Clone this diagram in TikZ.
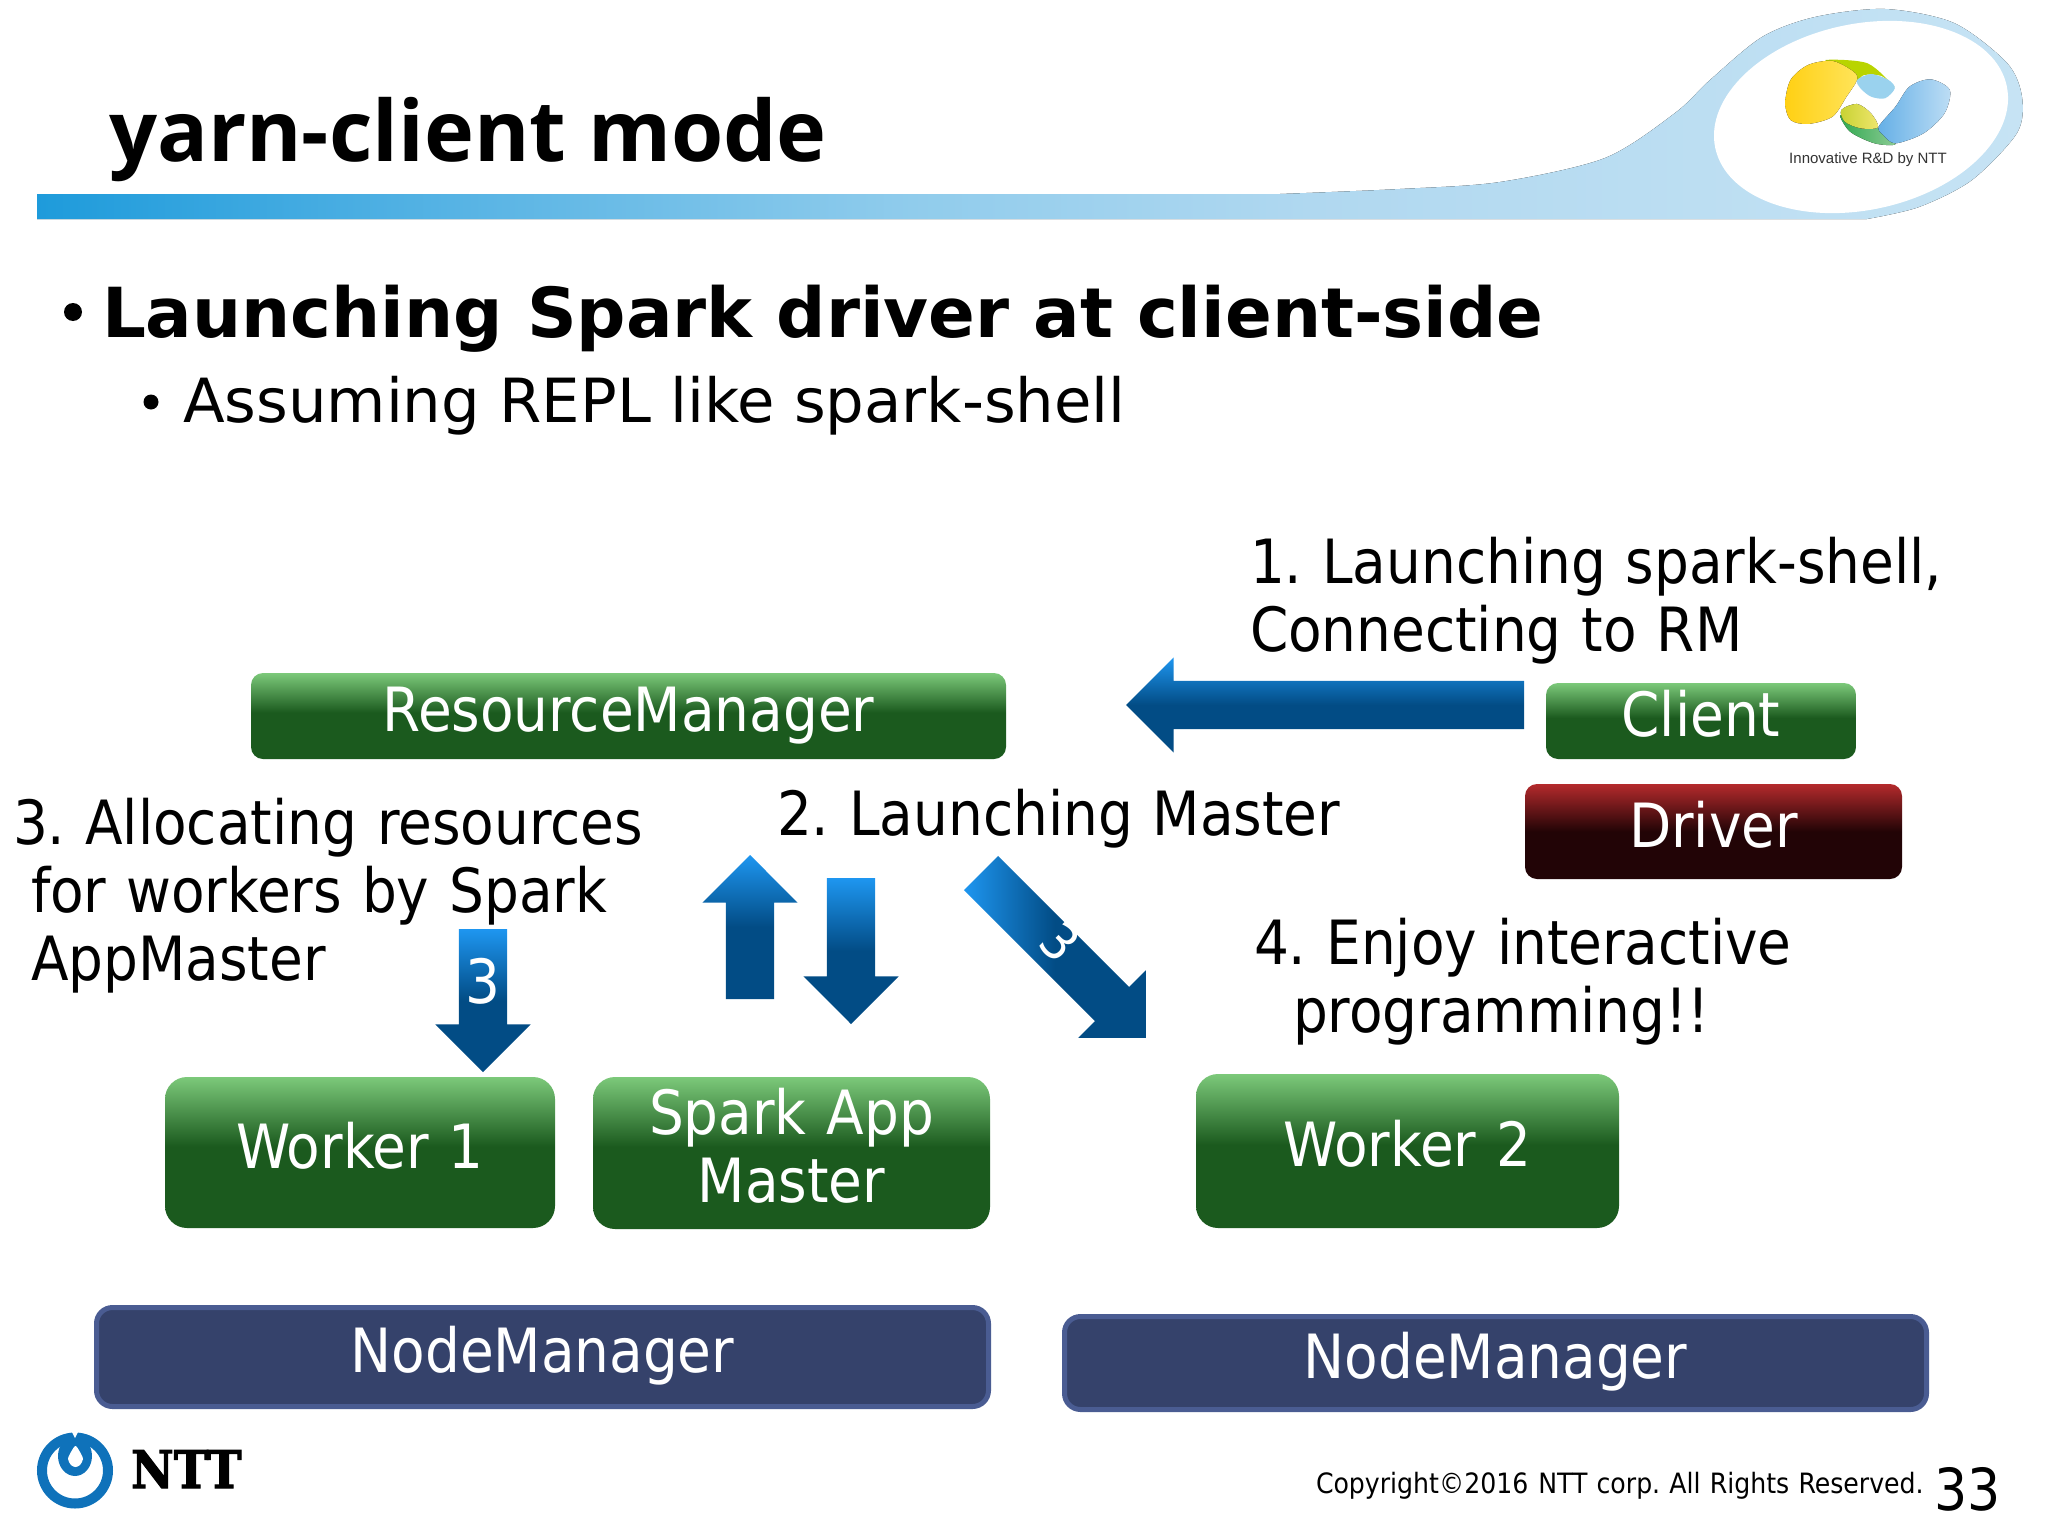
\documentclass[tikz,border=0pt]{standalone}
\usepackage{fontspec}
\setmainfont[WordSpace=1.15]{DejaVu Sans Condensed}
\newfontfamily\titlefont{Open Sans}
\newfontfamily\headfont{DejaVu Sans}
\newfontfamily\logofont{Liberation Sans}
\newfontfamily\nttfont[BoldFeatures={FakeBold=2}]{DejaVu Serif Condensed}
\usepackage{tikz}
\usetikzlibrary{shapes,arrows}
\usetikzlibrary{positioning}
\definecolor{glight}{HTML}{7CC97A}
\definecolor{gdark}{HTML}{1B5A1E}
\definecolor{rlight}{HTML}{B42A2C}
\definecolor{rdark}{HTML}{220406}
\definecolor{blight}{HTML}{1E96F0}
\definecolor{bdark}{HTML}{024C85}
\definecolor{nmfill}{HTML}{35426B}
\definecolor{nmline}{HTML}{4A5C92}
\definecolor{nttblue}{HTML}{0F72BA}
\definecolor{bandA}{HTML}{1E9BDB}
\definecolor{bandB}{HTML}{4FB0E3}
\definecolor{bandC}{HTML}{90CCEC}
\definecolor{bandD}{HTML}{B0D8F0}
\definecolor{bandE}{HTML}{C6E3F4}
\definecolor{logoyellowA}{HTML}{FFD014}
\definecolor{logoyellowB}{HTML}{FFE45A}
\definecolor{logolime}{HTML}{B9D400}
\definecolor{logosky}{HTML}{9AD2EE}
\definecolor{logogreenA}{HTML}{2FA84F}
\definecolor{logogreenB}{HTML}{8CCB94}
\definecolor{logooliveA}{HTML}{C8D232}
\definecolor{logooliveB}{HTML}{F0E66E}
\definecolor{logoblueA}{HTML}{64AFE6}
\definecolor{logoblueB}{HTML}{BEDEF5}
\pgfdeclareverticalshading{greenfade}{100bp}{color(0bp)=(gdark); color(52bp)=(gdark); color(75bp)=(glight); color(100bp)=(glight)}
\pgfdeclareverticalshading{redfade}{100bp}{color(0bp)=(rdark); color(50bp)=(rdark); color(75bp)=(rlight); color(100bp)=(rlight)}
\pgfdeclareverticalshading{bluefade}{100bp}{color(0bp)=(bdark); color(50bp)=(bdark); color(75bp)=(blight); color(100bp)=(blight)}
\pgfdeclarehorizontalshading{bandfade}{100bp}{color(0bp)=(bandA); color(25bp)=(bandA); color(34bp)=(bandB); color(47bp)=(bandC); color(57bp)=(bandD); color(75bp)=(bandE); color(100bp)=(bandE)}
\tikzstyle{base} = [inner sep=0pt, outer sep=0pt, text=white, align=center, font=\fontsize{61}{68}\selectfont]
\tikzstyle{oneline} = [text height=50pt, text depth=19pt]
\tikzstyle{greenbox} = [base, rounded corners=22pt, shading=greenfade]
\tikzstyle{smallbox} = [base, oneline, rounded corners=12pt, shading=greenfade]
\tikzstyle{nodemgr} = [base, oneline, rounded corners=16pt, draw=nmline, line width=5pt, fill=nmfill]
\tikzstyle{blockarrow} = [single arrow, shading=bluefade, minimum width=95pt, single arrow head extend=23.5pt,
single arrow tip angle=90, single arrow head indent=0pt, inner sep=0pt, outer sep=0pt,
text width=48pt, text height=46pt, text depth=2pt]
\tikzstyle{arrownum} = [inner sep=0pt, outer sep=0pt, text=white, font=\fontsize{61}{68}\selectfont]
\tikzstyle{label} = [inner sep=0pt, outer sep=0pt, anchor=base west, align=left, font=\fontsize{61}{68}\selectfont]
\tikzstyle{dot} = [circle, fill=black, inner sep=0pt, outer sep=0pt]
\frenchspacing

\begin{document}
\begin{tikzpicture}[x=1pt, y=-1pt]
	\useasboundingbox (0,0) rectangle (2048,1536);
	%% Header band
	\fill [shading=bandfade]
		(37,194) -- (1280,194) -- plot [smooth] coordinates {(1280,194) (1400,189) (1500,182) (1605,158) (1675,113) (1710,80) (1762,37) (1815,17) (1885,9) (1954,23) (2007,63) (2022,97) (2017,133) (1972,180) (1919,207) (1867,219)} -- (37,219) -- cycle;
	\fill [white, rotate around={12:(1861,117)}] (1861,117) ellipse [x radius=149pt, y radius=93pt];
	%% Innovative logo
	\begin{scope}[shift={(1500,0)}, xscale=0.35, yscale=0.3333]
		\fill [logolime] plot [smooth cycle] coordinates {(930,180) (1050,190) (1128,262) (1090,228) (1040,225) (1020,240) (990,205)};
		\fill [left color=logoyellowA, right color=logoyellowB] plot [smooth cycle] coordinates {(815,310) (830,240) (880,195) (950,183) (1010,215) (1020,240) (990,290) (950,350) (880,372) (830,360)};
		\fill [logosky] plot [smooth cycle] coordinates {(1020,240) (1060,222) (1110,240) (1128,265) (1100,295) (1060,290) (1030,265)};
		\fill [left color=logogreenA, right color=logogreenB] plot [smooth cycle] coordinates {(972,345) (1000,395) (1070,430) (1130,432) (1085,385) (1030,385)};
		\fill [left color=logooliveA, right color=logooliveB] plot [smooth cycle] coordinates {(975,330) (1020,312) (1060,340) (1080,382) (1030,385) (985,365)};
		\fill [left color=logoblueA, right color=logoblueB] plot [smooth cycle] coordinates {(1082,380) (1130,320) (1170,260) (1230,238) (1285,270) (1270,340) (1210,400) (1130,430) (1095,405)};
	\end{scope}
	\node [inner sep=0pt, font=\logofont\fontsize{15}{18}\selectfont, text=black!80] (tagline) at (1868,160) {Innovative R\&D by NTT};
	%% Headings
	\node [label, font=\titlefont\bfseries\fontsize{84.5}{90}\selectfont] (title) at (109,161) {yarn-client mode};
	\node [dot, minimum size=18pt] (dotA) at (73,312) {};
	\node [label, font=\headfont\bfseries\fontsize{69}{78}\selectfont] (bulletA) at (102,337) {Launching Spark driver at client-side};
	\node [dot, minimum size=15pt] (dotB) at (151,402) {};
	\node [label, font=\headfont\fontsize{60.9}{70}\selectfont] (bulletB) at (183,422) {Assuming REPL like spark-shell};
	%% Boxes
	\node [smallbox, minimum width=755pt, minimum height=86pt] (RM) at (628.5,716) {ResourceManager};
	\node [smallbox, minimum width=310pt, minimum height=76pt] (Client) at (1701,721) {Client};
	\node [smallbox, shading=redfade, minimum width=377pt, minimum height=95pt] (Driver) at (1713.5,831.5) {Driver};
	\node [greenbox, oneline, minimum width=390pt, minimum height=151pt] (W1) at (360,1152.5) {Worker 1};
	\node [greenbox, minimum width=397pt, minimum height=152pt] (AM) at (791.5,1153) {Spark App\\Master\rule[-16pt]{0pt}{1pt}};
	\node [greenbox, oneline, minimum width=423pt, minimum height=154pt] (W2) at (1407.5,1151) {Worker 2};
	\node [nodemgr, minimum width=892pt, minimum height=99pt] (NM1) at (542.5,1357) {NodeManager};
	\node [nodemgr, minimum width=862pt, minimum height=93pt] (NM2) at (1495.5,1363) {NodeManager};
	%% Arrows
	\node [blockarrow, shape border rotate=180, minimum height=398pt, anchor=tail] (aClient) at (1524,705) {};
	\node [blockarrow, shape border rotate=90, minimum height=144pt, anchor=tail] (aUp) at (750,999) {};
	\node [blockarrow, shape border rotate=270, minimum height=146pt, anchor=tail] (aDown) at (851,878) {};
	\node [blockarrow, shape border rotate=270, minimum height=143pt, anchor=tail] (aW1) at (483,929) {};
	\node [blockarrow, rotate=-45, shading angle=90, minimum height=233pt, anchor=tail] (aW2) at (981,873) {};
	\node [arrownum] (numW1) at (483,981) {3};
	\node [arrownum, rotate=-45, font=\fontsize{52}{60}\selectfont] (numW2) at (1060,942) {3};
	%% Labels
	\node [label] (step1) at (1250,651) {1. Launching spark-shell,\\Connecting to RM};
	\node [label] (step2) at (777,835) {2. Launching Master};
	\node [label] (step3) at (13,980) {3. Allocating resources\\\hspace*{18pt}for workers by Spark\\\hspace*{18pt}AppMaster};
	\node [label] (step4) at (1254,1032) {4. Enjoy interactive\\\hspace*{39pt}programming!!};
	%% Footer
	\draw [nttblue, line width=10pt] (75,1470.5) circle [radius=33pt];
	\fill [nttblue] (75,1456) ellipse [x radius=17pt, y radius=20pt];
	\fill [white] plot [smooth cycle] coordinates {(75.5,1446) (80,1452) (83,1459) (80,1465) (75.5,1467) (71,1465) (68,1459) (71,1452)};
	\fill [white] (72,1432) -- (78,1432) -- (75,1438) -- cycle;
	\node [label, font=\nttfont\bfseries\fontsize{52}{52}\selectfont] (ntt) at (131,1488) {NTT};
	\node [label, font=\fontsize{28}{32}\selectfont] (copy) at (1316,1493) {Copyright©2016\hspace{10pt}NTT corp. All Rights Reserved.};
	\node [label, font=\fontsize{58}{68}\selectfont] (page) at (1934,1510) {33};
\end{tikzpicture}
\end{document}
